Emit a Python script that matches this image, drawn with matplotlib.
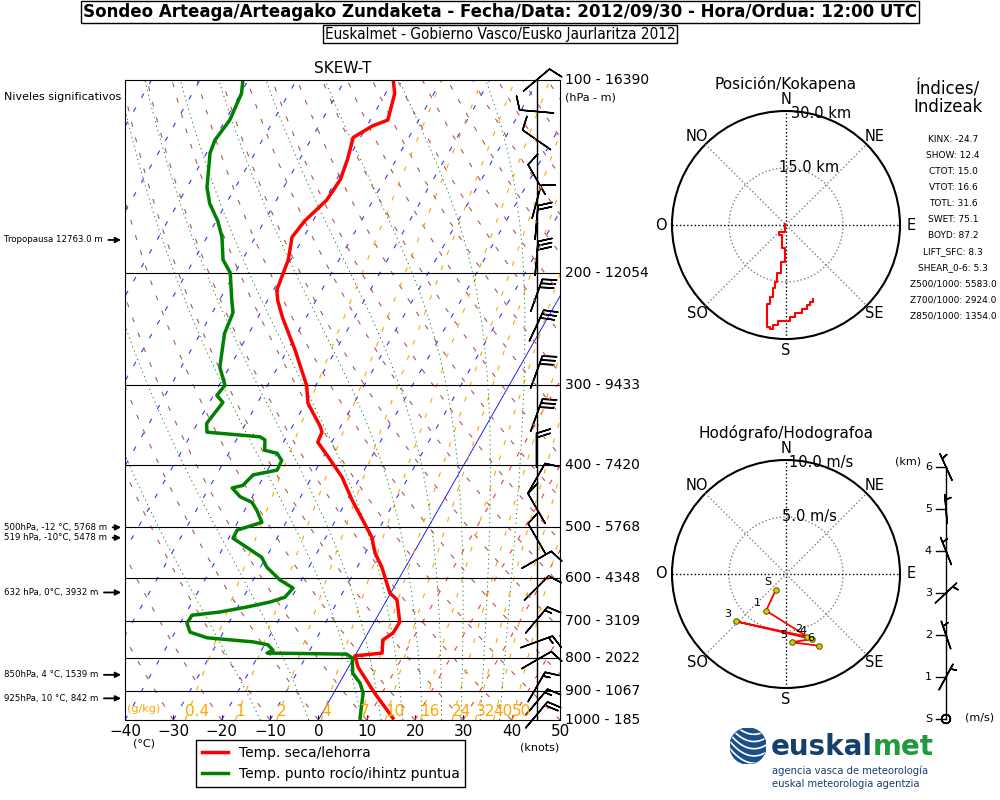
import numpy as np
import matplotlib
matplotlib.use('Agg')
import matplotlib.pyplot as plt
import matplotlib.transforms as mtransforms
from matplotlib.lines import Line2D
from matplotlib.patches import Circle
from matplotlib.font_manager import FontProperties, findfont

plt.rcParams['font.family'] = ['DejaVu Sans']
plt.rcParams['lines.scale_dashes'] = False

# ---- datos del sondeo ----
p_temp = [993, 908, 827, 794, 786, 750, 731, 703, 649, 633, 577, 548, 518, 453, 417,
          388, 368, 355, 348, 320, 300, 264, 235, 221, 213, 200, 191, 176, 166, 154,
          143, 133, 123, 118, 115.5, 105, 100]
t_temp = [15.2, 8.5, 2.0, 0.0, 5.3, 3.9, 5.2, 5.3, 2.1, -0.2, -4.9, -8.0, -10.5, -19.0, -23.8,
          -29.0, -32.9, -33.2, -34.2, -39.5, -41.9, -48.5, -54.9, -57.9, -59.3, -60.0, -60.5, -62.4, -61.7, -59.6,
          -59.2, -60.1, -61.5, -58.9, -56.4, -58.1, -60.0]

p_dew = [993, 908, 876, 845, 800, 789, 786, 778, 763, 755, 744, 729, 706, 686, 678,
         666, 654, 643, 622, 604, 577, 557, 539, 520, 505, 496, 491, 470, 457, 448,
         434, 430, 414, 407, 393, 383, 379, 365, 361, 355, 344, 319, 311, 300, 281,
         249, 231, 221, 200, 191, 176, 166, 156, 147, 130, 124, 118, 115.5, 105, 100]
t_dew = [8.4, 6.1, 4.3, 1.6, -0.3, -1.9, -18.5, -17.6, -19.3, -22.7, -32.7, -36.9, -38.6, -38.5, -33.1,
         -28.1, -23.9, -21.4, -20.8, -24.5, -28.7, -30.9, -34.8, -39.1, -39.2, -36.5, -35.0, -37.5, -39.4, -42.5,
         -45.2, -43.3, -42.4, -38.0, -38.2, -40.0, -42.9, -44.1, -45.5, -57.0, -58.1, -57.2, -59.3, -58.8, -62.0,
         -65.0, -65.7, -67.4, -71.0, -74.0, -76.9, -79.7, -83.4, -85.9, -89.3, -89.8, -89.3, -89.1, -89.8, -91.1]

# viento (hPa, direccion grados, nudos)
wind_p = [100, 112, 124, 143, 155, 167, 190, 217, 242, 286, 334, 379, 419, 467, 520,
          562, 622, 698, 755, 806, 888, 938, 982]
wind_dir = [50, 275, 305, 330, 15, 5, 5, 20, 25, 20, 20, 0, 30, 330, 330,
            60, 45, 40, 70, 60, 30, 40, 40]
wind_kt = [10, 10, 10, 10, 10, 20, 30, 30, 30, 30, 30, 20, 10, 10, 10,
           10, 10, 15, 15, 10, 15, 15, 20]

# niveles estandar y alturas
std_p = [100, 200, 300, 400, 500, 600, 700, 800, 900, 1000]
std_h = [16390, 12054, 9433, 7420, 5768, 4348, 3109, 2022, 1067, 185]

# niveles significativos
sig_p = [177.8, 500, 519, 632, 850, 925]
sig_lbl = ['Tropopausa 12763.0 m', '500hPa, -12 °C, 5768 m', '519 hPa, -10°C, 5478 m',
           '632 hPa, 0°C, 3932 m', '850hPa, 4 °C, 1539 m', '925hPa, 10 °C, 842 m']

# lineas de razon de mezcla (g/kg)
mix_w = [0.4, 1, 2, 4, 7, 10, 16, 24, 32, 40, 50]
mix_lbl = ['0.4', '1', '2', '4', '7', '10', '16', '24', '32', '40', '50']

# adiabaticas saturadas (temperatura a 1000 hPa)
moist_t0 = [-12, -2, 9, 13, 17.5, 21.5, 25.5, 29.5, 33.5, 37.5]

# posicion del globo (km este / km norte)
pos_east = [-0.26, -0.26, -1.75, -1.75, -1.14, -1.14, -0.26, -0.26, -1.40, -1.40, -2.28, -2.28, -2.89,
            -2.89, -3.51, -3.51, -4.21, -4.21, -5.09, -5.09, -4.21, -4.21, -3.33, -3.33, -2.02, -2.02,
            1.05, 1.05, 2.37, 2.37, 4.12, 4.12, 5.44, 5.44, 6.32, 6.32, 7.02, 7.02]
pos_north = [0.26, -1.75, -1.75, -2.63, -2.63, -6.14, -6.14, -9.65, -9.65, -12.72, -12.72, -14.91, -14.91,
             -16.67, -16.67, -18.86, -18.86, -20.79, -20.79, -26.75, -26.75, -27.46, -27.46, -26.32, -26.32, -25.18,
             -25.18, -24.30, -24.30, -23.25, -23.25, -22.19, -22.19, -21.05, -21.05, -20.18, -20.18, -19.56]

# hodografo (m/s) por km
hodo_lbl = ['S', '1', '2', '3', '4', '5', '6']
hodo_km = [0, 1, 2, 3, 4, 5, 6]
hodo_u = [-0.88, -1.75, 1.87, -4.42, 2.25, 0.50, 2.87]
hodo_v = [-1.37, -3.22, -5.50, -4.15, -5.70, -5.99, -6.29]

# indices
idx_names = ['KINX', 'SHOW', 'CTOT', 'VTOT', 'TOTL', 'SWET', 'BOYD', 'LIFT_SFC', 'SHEAR_0-6',
             'Z500/1000', 'Z700/1000', 'Z850/1000']
idx_vals = [-24.7, 12.4, 15.0, 16.6, 31.6, 75.1, 87.2, 8.3, 5.3, 5583.0, 2924.0, 1354.0]

SKEW = 75.5


def skew_x(t, p):
    return np.asarray(t, float) + SKEW * np.log10(1000.0 / np.asarray(p, float))


def td_from_w(w, p):
    e = w * p / (622.0 + w)
    a = np.log(e / 6.112)
    return 243.5 * a / (17.67 - a)


def moist_adiabat(t0, p):
    Rd, cp, Lv, eps = 287.04, 1005.7, 2.501e6, 0.622

    def f(T, pp):
        es = 6.112 * np.exp(17.67 * (T - 273.15) / (T - 29.65))
        rs = eps * es / (pp - es)
        return (Rd * T + Lv * rs) / (cp + Lv ** 2 * rs * eps / (Rd * T ** 2)) / pp
    T = np.empty_like(p)
    T[0] = t0 + 273.15
    for i in range(1, len(p)):
        dp = p[i] - p[i - 1]
        k1 = f(T[i - 1], p[i - 1])
        k2 = f(T[i - 1] + k1 * dp, p[i])
        T[i] = T[i - 1] + 0.5 * (k1 + k2) * dp
    return T - 273.15


fig = plt.figure(figsize=(10, 8), dpi=100)

# ---- titulos ----
cond = findfont(FontProperties(family='DejaVu Sans', stretch='condensed', weight='bold'))
if 'Condensed' in cond:
    tkw = dict(fontstretch='condensed')
    tsize, ssize = 13.3, 11
else:
    tkw = {}
    tsize, ssize = 11.5, 9.8
fig.text(0.5, 1 - 12 / 800, 'Sondeo Arteaga/Arteagako Zundaketa - Fecha/Data: 2012/09/30 - Hora/Ordua: 12:00 UTC',
         ha='center', va='center', fontsize=tsize, weight='bold',
         bbox=dict(boxstyle='square,pad=0.12', fc='white', ec='black', lw=1), **tkw)
fig.text(0.5, 1 - 34 / 800, 'Euskalmet - Gobierno Vasco/Eusko Jaurlaritza 2012',
         ha='center', va='center', fontsize=ssize,
         bbox=dict(boxstyle='square,pad=0.12', fc='white', ec='black', lw=1), **tkw)

# ---- skew-T ----
ax = fig.add_axes([0.125, 0.1, 0.435, 0.8])
ax.set_yscale('log')
ax.set_ylim(1000, 100)
ax.set_xlim(-40, 50)
pg = np.logspace(3, 2, 300)

for t in range(-140, 51, 10):
    if t == 0:
        ax.plot(skew_x(t, pg), pg, color='blue', lw=0.6)
    else:
        ax.plot(skew_x(t, pg), pg, color='#3333ff' if t < 0 else '#ff3333', lw=0.8,
                dashes=(3.5, 8))
for th in range(-40, 230, 10):
    tk = (th + 273.15) * (pg / 1000.0) ** 0.2857 - 273.15
    ax.plot(skew_x(tk, pg), pg, color='#b05555', lw=0.8, dashes=(3.5, 8))
for w in mix_w:
    ax.plot(skew_x(td_from_w(w, pg), pg), pg, color='orange', lw=0.8, dashes=(3.5, 8))
for t0 in moist_t0:
    ax.plot(skew_x(moist_adiabat(t0, pg), pg), pg, color='green', lw=0.7, dashes=(0.8, 2.5))

for p in std_p[1:-1]:
    ax.axhline(p, color='black', lw=0.8)
ax.axvline(45.15, color='black', lw=1)

ax.plot(skew_x(t_temp, p_temp), p_temp, color='red', lw=2.5)
ax.plot(skew_x(t_dew, p_dew), p_dew, color='green', lw=2.5)

wd = np.radians(wind_dir)
ws = np.asarray(wind_kt, float)
ax.barbs(np.full(len(wind_p), 45.15), wind_p, -ws * np.sin(wd), -ws * np.cos(wd),
         length=7, pivot='middle', clip_on=False, lw=1.1, color='black')

for w, lbl in zip(mix_w, mix_lbl):
    ax.text(skew_x(td_from_w(w, 1000.0), 1000.0), 995, lbl, color='orange', fontsize=11,
            ha='left', va='bottom')
ax.text(0.005, 0.01, '(g/kg)', transform=ax.transAxes, color='orange', fontsize=8, va='bottom')

ax.set_xticks(range(-40, 51, 10))
ax.tick_params(axis='x', labelsize=11, direction='in', pad=3)
ax.set_yticks([])
ax.set_yticks([], minor=True)
ax.set_title('SKEW-T', fontsize=11, pad=5)

tr_r = mtransforms.blended_transform_factory(ax.transAxes, ax.transData)
for p, h in zip(std_p, std_h):
    ax.text(1.012, p, f'{p} - {h}', transform=tr_r, va='center', fontsize=10)
ax.text(1.012, 0.973, '(hPa - m)', transform=ax.transAxes, va='center', fontsize=8)

fig.text(0.004, 1 - 97 / 800, 'Niveles significativos', fontsize=8, va='center')
tr_l = mtransforms.blended_transform_factory(fig.transFigure, ax.transData)
for p, lbl in zip(sig_p, sig_lbl):
    ax.annotate(lbl, xy=(-0.009, p), xycoords=tr_r, xytext=(0.004, p), textcoords=tr_l,
                fontsize=6.2, ha='left', va='center', annotation_clip=False,
                arrowprops=dict(arrowstyle='-|>', color='black', lw=1.3, shrinkA=2, shrinkB=0,
                                mutation_scale=8, relpos=(1, 0.5)))

fig.text(0.144, 1 - 743 / 800, '(°C)', fontsize=8, ha='center', va='center')
fig.text(0.540, 1 - 748 / 800, '(knots)', fontsize=8, ha='center', va='center')

fig.legend([Line2D([], [], color='red', lw=2.5), Line2D([], [], color='green', lw=2.5)],
           ['Temp. seca/lehorra', 'Temp. punto rocío/ihintz puntua'],
           loc='upper left', bbox_to_anchor=(0.196, 1 - 740 / 800), fontsize=10,
           handlelength=1.9, fancybox=False, edgecolor='black', framealpha=1, borderaxespad=0)


def draw_rose(a, title, r1, r2):
    a.set_xlim(-1, 1)
    a.set_ylim(-1, 1)
    a.set_aspect('equal')
    a.axis('off')
    a.add_patch(Circle((0, 0), 1, fill=False, lw=1.5, ec='black', clip_on=False))
    a.add_patch(Circle((0, 0), 0.5, fill=False, lw=1, ec='gray', ls=':'))
    for ang in range(0, 180, 45):
        s, c = np.sin(np.radians(ang)), np.cos(np.radians(ang))
        col = 'black' if ang % 90 == 0 else 'gray'
        a.plot([-s, s], [-c, c], color=col, lw=1, ls=':')
    for ang, lb in zip(range(0, 360, 45), ['N', 'NE', 'E', 'SE', 'S', 'SO', 'O', 'NO']):
        s, c = np.sin(np.radians(ang)), np.cos(np.radians(ang))
        a.text(1.1 * s, 1.1 * c, lb, ha='center', va='center', fontsize=10.5)
    s, c = np.sin(np.radians(18)), np.cos(np.radians(18))
    a.text(s, c + 0.03, r2, ha='center', va='center', fontsize=10.5)
    a.text(0.5 * s + 0.05, 0.5 * c + 0.03, r1, ha='center', va='center', fontsize=10.5)
    a.text(0, 1.235, title, ha='center', va='center', fontsize=11)


# ---- posicion ----
axp = fig.add_axes([0.672, 1 - 339 / 800, 0.228, 228 / 800])
draw_rose(axp, 'Posición/Kokapena', '15.0 km', '30.0 km')
axp.plot(np.asarray(pos_east) / 30.0, np.asarray(pos_north) / 30.0, color='red', lw=1.5)

# ---- hodografo ----
axh = fig.add_axes([0.672, 1 - 688 / 800, 0.228, 228 / 800])
draw_rose(axh, 'Hodógrafo/Hodografoa', '5.0 m/s', '10.0 m/s')
hu = np.asarray(hodo_u) / 10.0
hv = np.asarray(hodo_v) / 10.0
axh.plot(hu, hv, color='red', lw=1.3, marker='o', ms=4, mfc='#d4cc00', mec='#555500', mew=0.7)
for x, y, lb in zip(hu, hv, hodo_lbl):
    axh.annotate(lb, (x, y), xytext=(-6, 2), textcoords='offset points', fontsize=8,
                 ha='center', va='bottom')

# ---- perfil de viento por altura ----
axk = fig.add_axes([0.906, 1 - 730 / 800, 0.08, 275 / 800])
axk.set_xlim(-1, 1)
axk.set_ylim(-11 / 42, 6 + 12 / 42)
axk.axis('off')
axk.plot([0, 0], [0, 6], color='black', lw=1)
for k, lb in zip(hodo_km, hodo_lbl):
    axk.plot([-0.25, 0], [k, k], color='black', lw=1)
    axk.text(-0.35, k, lb, ha='right', va='center', fontsize=8)
axk.barbs(np.zeros(len(hodo_km)), hodo_km, hodo_u, hodo_v, length=6.5, pivot='middle',
          clip_on=False, lw=1.1, color='black')
axk.text(-0.95, 6.14, '(km)', ha='center', va='center', fontsize=8)
axk.text(0.47, 0.03, '(m/s)', ha='left', va='center', fontsize=8)

# ---- indices ----
fig.text(0.948, 1 - 89 / 800, 'Índices/', ha='center', va='center', fontsize=12)
fig.text(0.948, 1 - 107 / 800, 'Indizeak', ha='center', va='center', fontsize=12)
for i, (n, v) in enumerate(zip(idx_names, idx_vals)):
    fig.text(0.953, 1 - (140 + 16.0 * i) / 800, f'{n}: {v:.1f}', ha='center', va='center',
             fontsize=6.5)

# ---- logo ----
lax = fig.add_axes([0.729, 1 - 764 / 800, 0.038, 36 / 800])
lax.set_xlim(-1, 1)
lax.set_ylim(-1, 1)
lax.set_aspect('equal')
lax.axis('off')
globe = Circle((0, 0), 1, color='#1b4f8a')
lax.add_patch(globe)
xx = np.linspace(-1, 1, 50)
for c0 in [-0.9, -0.5, -0.1, 0.3, 0.7]:
    ln, = lax.plot(xx, c0 + 0.45 * xx ** 2 - 0.3 * xx, color='white', lw=1.2)
    ln.set_clip_path(globe)
t1 = fig.text(0.771, 1 - 761 / 800, 'euskal', color='#173f6e', fontsize=20, weight='bold',
              va='bottom')
ax.annotate('met', xy=(1, 0), xycoords=t1, color='#1f9a3c', fontsize=20, weight='bold',
            va='bottom', ha='left', annotation_clip=False)
fig.text(0.772, 1 - 771 / 800, 'agencia vasca de meteorología', color='#173f6e', fontsize=7.2,
         va='center')
fig.text(0.772, 1 - 784 / 800, 'euskal meteorologia agentzia', color='#173f6e', fontsize=7.2,
         va='center')

fig.savefig('out.png', dpi=100)
